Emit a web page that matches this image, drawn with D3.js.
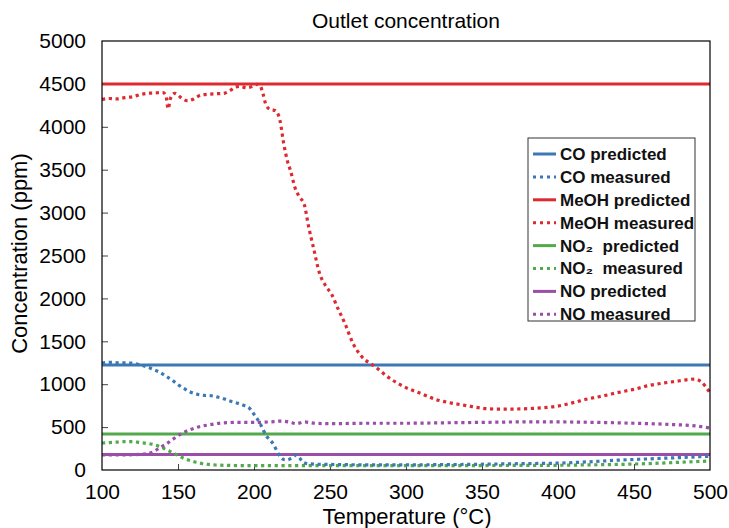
<!DOCTYPE html>
<html>
<head>
<meta charset="utf-8">
<script src="https://cdn.jsdelivr.net/npm/d3@7"></script>
<style>
  html, body { margin: 0; padding: 0; background: #fff; }
  svg { display: block; font-family: "Liberation Sans", Arial, sans-serif; }
</style>
</head>
<body>
<svg id="chart" width="729" height="528"></svg>
<script>
// ---------- data ----------
const xTicks = [100, 150, 200, 250, 300, 350, 400, 450, 500];
const yTicks = [0, 500, 1000, 1500, 2000, 2500, 3000, 3500, 4000, 4500, 5000];

const coPredicted = 1225;
const meohPredicted = 4500;
const no2Predicted = 420;
const noPredicted = 180;

const meohT = [100,105,110,115,120,125,130,135,140,142,143.5,145,148,152,156,160,165,170,175,180,185,188,191,195,199,202,204,206,208,211,214,217,219.5,222,224,227,230,233,236,239,243,247,251,255,260,265,270,280,290,300,310,320,330,340,350,360,370,380,390,400,410,420,430,440,450,460,470,480,486,490,494,497,500];
const meohV = [4320,4330,4325,4340,4350,4375,4390,4395,4400,4370,4210,4330,4390,4340,4305,4320,4370,4380,4385,4390,4430,4465,4470,4455,4470,4495,4480,4380,4250,4200,4190,4080,3810,3600,3490,3290,3180,3100,2830,2600,2300,2150,2050,1890,1700,1480,1340,1200,1060,960,890,820,780,750,720,710,710,715,725,745,785,830,865,905,940,985,1015,1040,1055,1060,1030,975,900];

const coT = [100,105,110,115,120,125,130,134,138,142,146,150,154,158,162,167,172,176,180,184,188,193,197,200,202,204,206,208,210,212,214,216,218,220,222,225,228,230,232,235,240,250,260,280,300,320,340,360,380,400,420,440,460,480,500];
const coV = [1245,1255,1250,1248,1245,1225,1200,1170,1140,1095,1050,995,950,910,885,870,865,850,830,805,785,755,720,650,600,540,470,400,360,320,260,190,140,120,118,145,175,140,95,75,68,65,62,60,60,62,65,70,75,80,95,115,130,145,160];

const no2T = [100,105,110,115,120,125,130,134,138,142,146,150,154,158,162,166,170,175,180,190,200,220,250,300,350,400,420,440,460,480,500];
const no2V = [315,320,325,330,330,320,310,295,275,240,205,170,135,110,90,75,65,58,55,52,52,50,50,50,52,55,60,65,75,90,105];

const noT = [100,110,120,125,130,134,138,142,146,150,154,158,162,166,170,175,180,190,200,210,218,223,228,233,240,250,275,300,325,350,375,400,425,450,475,490,500];
const noV = [175,175,178,182,190,215,260,300,350,400,440,470,495,512,525,540,550,555,555,560,570,560,540,560,545,540,545,545,550,555,560,560,555,545,530,515,490];

const colors = { co: "#3b78b5", meoh: "#dd2a30", no2: "#52aa4c", no: "#9a4ea7" };

const legendItems = [
  { label: "CO predicted", color: colors.co, dashed: false },
  { label: "CO measured", color: colors.co, dashed: true },
  { label: "MeOH predicted", color: colors.meoh, dashed: false },
  { label: "MeOH measured", color: colors.meoh, dashed: true },
  { label: "NO\u2082  predicted", color: colors.no2, dashed: false },
  { label: "NO\u2082  measured", color: colors.no2, dashed: true },
  { label: "NO predicted", color: colors.no, dashed: false },
  { label: "NO measured", color: colors.no, dashed: true }
];

// ---------- layout ----------
const svg = d3.select("#chart");
const m = { left: 102, top: 41, right: 19, bottom: 58 };
const W = 729 - m.left - m.right;
const H = 528 - m.top - m.bottom;

const x = d3.scaleLinear().domain([100, 500]).range([0, W]);
const y = d3.scaleLinear().domain([0, 5000]).range([H, 0]);

const g = svg.append("g").attr("transform", `translate(${m.left},${m.top})`);

// title
svg.append("text").attr("x", m.left + W / 2).attr("y", 28)
  .attr("text-anchor", "middle").attr("font-size", 21).attr("fill", "#000")
  .text("Outlet concentration");

// axes
const xAxis = g.append("g").attr("transform", `translate(0,${H})`)
  .call(d3.axisBottom(x).tickValues(xTicks).tickSize(-6).tickPadding(14).tickFormat(d3.format("d")));
const yAxis = g.append("g")
  .call(d3.axisLeft(y).tickValues(yTicks).tickSize(-6).tickPadding(16).tickFormat(d3.format("d")));
[xAxis, yAxis].forEach(a => {
  a.select(".domain").remove();
  a.selectAll(".tick line").attr("stroke", "#444");
  a.selectAll("text").attr("font-size", 21).attr("fill", "#000")
    .attr("font-family", "Liberation Sans, Arial, sans-serif");
});
xAxis.selectAll("text").attr("dy", "0.71em");
xAxis.selectAll(".tick").filter(d => d === 100 || d === 500).select("line").remove();
yAxis.selectAll(".tick").filter(d => d === 0 || d === 5000).select("line").remove();

// axis labels
svg.append("text").attr("x", m.left + W / 2 + 1).attr("y", 524)
  .attr("text-anchor", "middle").attr("font-size", 22).text("Temperature (\u00B0C)");
svg.append("text").attr("transform", `translate(27,${m.top + H / 2 - 2}) rotate(-90)`)
  .attr("text-anchor", "middle").attr("font-size", 22).text("Concentration (ppm)");

// lines
const line = d3.line().x(d => x(d[0])).y(d => y(d[1])).curve(d3.curveMonotoneX);

function drawPredicted(v, color) {
  g.append("path").datum([[100, v], [500, v]]).attr("d", line)
    .attr("fill", "none").attr("stroke", color).attr("stroke-width", 3);
}
function drawMeasured(ts, vs, color) {
  g.append("path").datum(d3.zip(ts, vs)).attr("d", line)
    .attr("fill", "none").attr("stroke", color).attr("stroke-width", 3.2)
    .attr("stroke-dasharray", "3.2,3.6");
}

drawPredicted(coPredicted, colors.co);
drawPredicted(meohPredicted, colors.meoh);
drawPredicted(no2Predicted, colors.no2);
drawPredicted(noPredicted, colors.no);
drawMeasured(no2T, no2V, colors.no2);
drawMeasured(noT, noV, colors.no);
drawMeasured(coT, coV, colors.co);
drawMeasured(meohT, meohV, colors.meoh);

// frame
g.append("rect").attr("width", W).attr("height", H)
  .attr("fill", "none").attr("stroke", "#000").attr("stroke-width", 1.2);

// legend
const lg = svg.append("g").attr("transform", "translate(528,138)");
lg.append("rect").attr("width", 167).attr("height", 183)
  .attr("fill", "#fff").attr("stroke", "#333").attr("stroke-width", 1);
const rows = lg.selectAll("g.row").data(legendItems).enter().append("g")
  .attr("transform", (d, i) => `translate(0,${16 + i * 22.9})`);
rows.append("line").attr("x1", 5).attr("x2", 28).attr("y1", 0).attr("y2", 0)
  .attr("stroke", d => d.color).attr("stroke-width", 3)
  .attr("stroke-dasharray", d => d.dashed ? "3,4" : null);
rows.append("text").attr("x", 32).attr("y", 0).attr("dy", "0.35em")
  .attr("font-size", 17).attr("font-weight", "bold").attr("fill", "#111")
  .style("white-space", "pre")
  .text(d => d.label);
</script>
</body>
</html>
